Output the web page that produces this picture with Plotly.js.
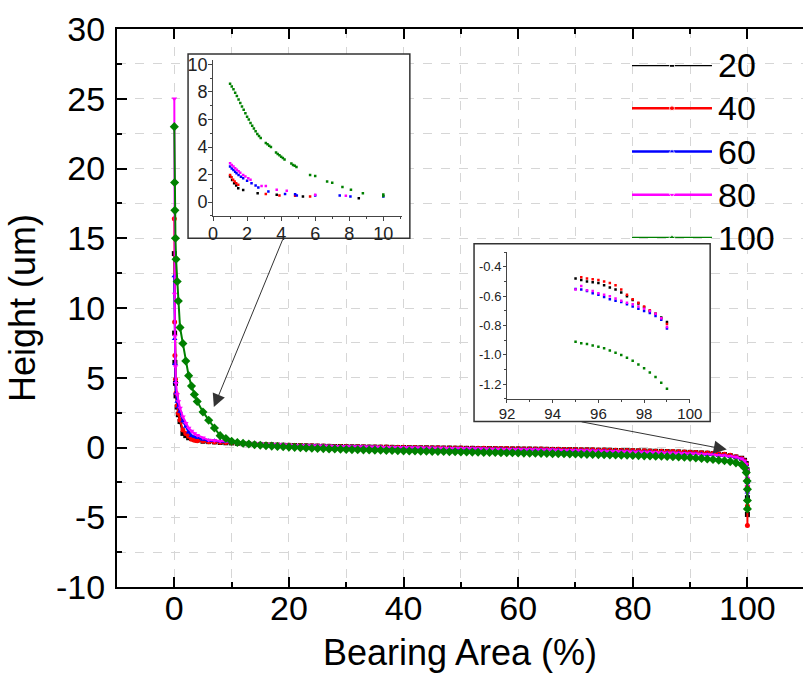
<!DOCTYPE html>
<html><head><meta charset="utf-8">
<script src="https://cdn.plot.ly/plotly-3.0.1.min.js"></script>
<style>html,body{margin:0;padding:0;overflow:hidden;background:#fff}</style>
</head><body><div id="chart" style="width:803px;height:673px"></div>
<script>
// ---------- main plot data ----------
const seriesNames = ['20','40','60','80','100'];
const seriesColors = ['#000000','#FF0000','#0000FF','#FF00FF','#008000'];
const seriesSymbols = ['square','circle','triangle-up','triangle-down','diamond'];

const area = [0,0.05,0.1,0.2,0.3,0.5,0.7,1,1.5,2,2.5,3,3.5,4,5,6,7,8,9,
10,11,12,13,14,15,16,17,18,19,20,21,22,23,24,25,26,27,28,29,30,31,32,33,34,35,36,37,38,39,
40,41,42,43,44,45,46,47,48,49,50,51,52,53,54,55,56,57,58,59,60,61,62,63,64,65,66,67,68,69,
70,71,72,73,74,75,76,77,78,79,80,81,82,83,84,85,86,87,88,89,90,91,92,93,94,95,96,97,98,99,
99.5,99.8,99.95,100,100,100];

const h20 = [13.9,8.2,6.1,4.6,3.7,2.9,2.35,1.86,1.01,0.85,0.7,0.65,0.58,0.53,0.45,0.42,0.4,0.36,0.34,
0.33,0.30,0.27,0.25,0.23,0.22,0.20,0.19,0.17,0.16,
0.15,0.14,0.13,0.12,0.11,0.10,0.09,0.08,0.07,0.07,
0.06,0.05,0.05,0.04,0.03,0.03,0.02,0.02,0.01,0.00,
0.00,-0.01,-0.01,-0.02,-0.02,-0.03,-0.03,-0.04,-0.04,-0.05,
-0.05,-0.06,-0.06,-0.07,-0.07,-0.08,-0.08,-0.09,-0.09,-0.10,
-0.10,-0.11,-0.11,-0.12,-0.12,-0.13,-0.14,-0.14,-0.15,-0.15,
-0.16,-0.17,-0.17,-0.18,-0.19,-0.19,-0.20,-0.21,-0.22,-0.22,
-0.23,-0.24,-0.25,-0.26,-0.27,-0.28,-0.29,-0.31,-0.32,-0.34,
-0.35,-0.37,-0.39,-0.41,-0.44,-0.48,-0.51,-0.58,-0.68,-0.77,
-0.92,-1.15,-1.6,-2.4,-3.6,-4.8];

const h40 = [16.4,9.0,6.6,4.9,3.9,3.0,2.45,1.98,1.26,1.0,0.8,0.6,0.52,0.48,0.46,0.41,0.39,0.37,0.35,
0.34,0.31,0.28,0.26,0.24,0.22,0.21,0.19,0.18,0.17,
0.16,0.15,0.14,0.13,0.12,0.11,0.10,0.09,0.08,0.08,
0.07,0.06,0.06,0.05,0.04,0.04,0.03,0.03,0.02,0.01,
0.01,0.00,0.00,-0.01,-0.01,-0.02,-0.02,-0.03,-0.03,-0.04,
-0.04,-0.05,-0.05,-0.06,-0.06,-0.07,-0.07,-0.08,-0.08,-0.09,
-0.09,-0.10,-0.10,-0.11,-0.11,-0.12,-0.12,-0.13,-0.14,-0.14,
-0.15,-0.16,-0.16,-0.17,-0.18,-0.18,-0.19,-0.20,-0.21,-0.21,
-0.22,-0.23,-0.24,-0.25,-0.26,-0.27,-0.28,-0.29,-0.31,-0.32,
-0.34,-0.36,-0.38,-0.40,-0.43,-0.47,-0.49,-0.555,-0.67,-0.79,
-0.95,-1.2,-1.8,-2.8,-4.2,-5.6];

const h60 = [12.3,7.8,6.0,4.7,3.9,3.3,2.9,2.58,1.9,1.5,1.1,0.85,0.77,0.7,0.58,0.48,0.48,0.45,0.42,
0.38,0.34,0.30,0.27,0.25,0.23,0.21,0.20,0.18,0.17,
0.16,0.14,0.13,0.12,0.11,0.10,0.09,0.08,0.07,0.06,
0.05,0.05,0.04,0.03,0.02,0.02,0.01,0.00,0.00,-0.01,
-0.01,-0.02,-0.03,-0.03,-0.04,-0.04,-0.05,-0.05,-0.06,-0.07,
-0.07,-0.08,-0.08,-0.09,-0.10,-0.10,-0.11,-0.11,-0.12,-0.13,
-0.13,-0.14,-0.15,-0.15,-0.16,-0.17,-0.17,-0.18,-0.19,-0.20,
-0.20,-0.21,-0.22,-0.23,-0.24,-0.25,-0.26,-0.27,-0.28,-0.29,
-0.30,-0.31,-0.32,-0.33,-0.35,-0.36,-0.37,-0.39,-0.40,-0.42,
-0.43,-0.45,-0.47,-0.50,-0.52,-0.55,-0.59,-0.64,-0.70,-0.82,
-0.98,-1.25,-1.7,-2.5,-3.2,-3.8];

const h80 = [25.0,11.0,8.0,5.8,4.6,3.8,3.3,2.83,2.2,1.74,1.4,1.18,1.0,0.88,0.7,0.53,0.5,0.46,0.44,
0.42,0.38,0.34,0.31,0.28,0.26,0.24,0.22,0.21,0.19,
0.18,0.17,0.15,0.14,0.13,0.12,0.11,0.10,0.09,0.08,
0.07,0.06,0.06,0.05,0.04,0.03,0.03,0.02,0.01,0.01,
0.00,-0.01,-0.01,-0.02,-0.03,-0.03,-0.04,-0.04,-0.05,-0.06,
-0.06,-0.07,-0.08,-0.08,-0.09,-0.10,-0.10,-0.11,-0.12,-0.12,
-0.13,-0.14,-0.14,-0.15,-0.16,-0.17,-0.17,-0.18,-0.19,-0.20,
-0.21,-0.21,-0.22,-0.23,-0.24,-0.25,-0.26,-0.27,-0.28,-0.29,
-0.30,-0.31,-0.32,-0.33,-0.34,-0.36,-0.37,-0.38,-0.40,-0.41,
-0.43,-0.45,-0.47,-0.49,-0.52,-0.555,-0.58,-0.63,-0.685,-0.81,
-0.97,-1.2,-1.6,-2.2,-2.8,-3.2];

const h100 = [23.0,19.0,17.0,15.0,13.5,11.9,10.5,8.6,7.45,6.2,5.15,4.4,3.8,3.3,2.55,1.95,1.4,0.85,0.65,
0.45,0.36,0.30,0.25,0.20,0.16,0.13,0.10,0.07,0.05,
0.03,0.01,-0.01,-0.03,-0.05,-0.07,-0.08,-0.10,-0.11,-0.12,
-0.14,-0.15,-0.16,-0.17,-0.18,-0.19,-0.20,-0.21,-0.22,-0.23,
-0.24,-0.25,-0.25,-0.26,-0.27,-0.28,-0.29,-0.29,-0.30,-0.31,
-0.32,-0.32,-0.33,-0.34,-0.35,-0.35,-0.36,-0.37,-0.38,-0.38,
-0.39,-0.40,-0.41,-0.41,-0.42,-0.43,-0.44,-0.45,-0.45,-0.46,
-0.47,-0.48,-0.49,-0.50,-0.51,-0.52,-0.53,-0.54,-0.55,-0.56,
-0.57,-0.58,-0.60,-0.61,-0.62,-0.63,-0.65,-0.66,-0.68,-0.70,
-0.72,-0.75,-0.78,-0.82,-0.86,-0.91,-0.95,-1.01,-1.10,-1.23,
-1.45,-1.8,-2.4,-3.0,-3.8,-4.4];

// ---------- inset A (0-10 %) ----------
const insA_x20 = [1.0,1.12,1.24,1.36,1.48,1.77,2.62,3.74,5.28,8.56];
const insA_y20 = [1.86,1.6,1.38,1.2,1.01,0.89,0.65,0.53,0.41,0.29];
const insA_x40 = [1.0,1.09,1.18,1.27,1.36,1.48,3.1,3.9,4.82,5.7];
const insA_y40 = [1.98,1.8,1.62,1.5,1.38,1.26,0.6,0.48,0.46,0.41];
const insA_x60 = [1.0,1.1,1.2,1.3,1.38,1.5,1.64,1.77,2.0,2.26,2.5,2.66,3.25,4.23,4.82,4.92,6.0,7.44,8.07,10.0];
const insA_y60 = [2.58,2.45,2.33,2.2,2.1,1.98,1.85,1.74,1.55,1.38,1.2,1.06,0.77,0.6,0.58,0.48,0.48,0.48,0.41,0.41];
const insA_x80 = [1.0,1.1,1.2,1.3,1.4,1.5,1.6,1.77,1.9,2.07,2.2,2.85,3.1,3.74,4.33,6.0,7.8];
const insA_y80 = [2.83,2.7,2.58,2.46,2.35,2.25,2.14,1.98,1.86,1.74,1.62,1.18,1.18,0.9,0.82,0.53,0.46];
const insA_x100 = [1.0,1.1,1.2,1.3,1.4,1.5,1.6,1.7,1.8,1.9,2.0,2.1,2.2,2.3,2.4,2.5,2.6,2.7,2.8,
3.1,3.2,3.3,3.4,3.7,3.8,3.9,4.0,4.1,4.2,4.6,4.7,4.8,4.9,5.7,6.0,6.7,7.0,7.6,8.1,8.8,10.0,10.0];
const insA_y100 = [8.6,8.4,8.2,7.95,7.7,7.45,7.2,6.95,6.7,6.45,6.2,6.0,5.75,5.55,5.35,5.15,4.95,4.8,4.65,
4.3,4.2,4.1,4.0,3.6,3.5,3.4,3.3,3.2,3.1,2.8,2.7,2.65,2.55,1.98,1.9,1.5,1.4,1.1,0.9,0.65,0.45,0.55];
const insA_xticks = [0,2,4,6,8,10];
const insA_yticks = [0,2,4,6,8,10];

// ---------- inset B (92-100 %) ----------
const insB_x = [95,95.25,95.5,95.75,96,96.25,96.5,96.75,97,97.25,97.5,97.75,98,98.25,98.5,98.75,99];
const insB_y20 = [-0.48,-0.49,-0.50,-0.505,-0.51,-0.525,-0.54,-0.555,-0.575,-0.60,-0.625,-0.65,-0.675,-0.70,-0.72,-0.745,-0.775];
const insB_y40 = [null,-0.47,-0.48,-0.485,-0.49,-0.50,-0.51,-0.525,-0.555,-0.59,-0.62,-0.645,-0.67,-0.695,-0.72,-0.75,-0.79];
const insB_y60 = [-0.55,-0.555,-0.565,-0.58,-0.59,-0.605,-0.62,-0.63,-0.64,-0.655,-0.67,-0.685,-0.70,-0.715,-0.735,-0.76,-0.82];
const insB_y80 = [-0.555,-0.53,-0.56,-0.565,-0.58,-0.59,-0.60,-0.615,-0.63,-0.645,-0.655,-0.67,-0.685,-0.70,-0.72,-0.75,-0.81];
const insB_y100 = [-0.91,-0.92,-0.925,-0.935,-0.945,-0.955,-0.97,-0.985,-1.0,-1.02,-1.04,-1.065,-1.09,-1.12,-1.15,-1.19,-1.23];
const insB_xticks = [92,94,96,98,100];
const insB_yticks = [-0.4,-0.6,-0.8,-1.0,-1.2];
const insB_ytext = ['-0.4','-0.6','-0.8','-1.0','-1.2'];

// main axis tick labels (hyphen minus, like the original)
const mainYticks = [-10,-5,0,5,10,15,20,25,30];
const mainYtext = ['-10','-5','0','5','10','15','20','25','30'];
const mainXticks = [0,20,40,60,80,100];

const mainY = [h20,h40,h60,h80,h100];
const insAX = [insA_x20,insA_x40,insA_x60,insA_x80,insA_x100];
const insAY = [insA_y20,insA_y40,insA_y60,insA_y80,insA_y100];
const insBY = [insB_y20,insB_y40,insB_y60,insB_y80,insB_y100];

const FONT = '"Liberation Sans", Arial, sans-serif';
const traces = [];
seriesNames.forEach((n,i)=>{
  traces.push({type:'scatter', mode:'lines+markers', name:n, x:area, y:mainY[i],
    xaxis:'x', yaxis:'y', showlegend:false, line:{color:seriesColors[i], width:2},
    marker:{color:seriesColors[i], symbol:seriesSymbols[i], size: i===4?7:5}});
});
seriesNames.forEach((n,i)=>{
  traces.push({type:'scatter', mode:'markers', name:n, x:insAX[i], y:insAY[i], showlegend:false,
    xaxis:'x2', yaxis:'y2', marker:{color:seriesColors[i], size:2.5, symbol:'square'}});
});
seriesNames.forEach((n,i)=>{
  traces.push({type:'scatter', mode:'markers', name:n, x:insB_x, y:insBY[i], showlegend:false,
    xaxis:'x3', yaxis:'y3', marker:{color:seriesColors[i], size:2.5, symbol:'square'}});
});
// legend samples drawn in their own small axes (row index = series index)
seriesNames.forEach((n,i)=>{
  traces.push({type:'scatter', mode:'lines+markers', name:n, x:[0,0.5,1], y:[i,i,i], showlegend:false,
    xaxis:'x4', yaxis:'y4', line:{color:seriesColors[i], width:2.5},
    marker:{color:seriesColors[i], symbol:seriesSymbols[i], size:[0,5,0]}});
});

const grid = {showgrid:true, gridcolor:'#d6d6d6', griddash:'dash', gridwidth:1};
const insetAxis = {showline:true, linecolor:'#444', linewidth:1, ticks:'outside', ticklen:4, tickcolor:'#444',
  showgrid:false, zeroline:false, ticklabelstandoff:-3, tickfont:{size:18, family:FONT, color:'#222'}};

const legendLabels = seriesNames.map((n,i)=>({xref:'x4', yref:'y4', x:1, y:i, xanchor:'left', yanchor:'middle',
  xshift:4, text:n, showarrow:false, font:{size:34, family:FONT, color:'#000'}}));

const layout = {
  width:803, height:673,
  margin:{l:117, r:0, t:29, b:86, pad:0},
  paper_bgcolor:'#ffffff', plot_bgcolor:'rgba(0,0,0,0)',
  font:{family:FONT, color:'#000'},
  showlegend:false,
  xaxis:Object.assign({domain:[0,1], range:[-10,109.7], tickvals:mainXticks,
    ticks:'inside', ticklen:10, tickwidth:2, tickcolor:'#000',
    showline:true, linewidth:2, linecolor:'#000', mirror:'ticks', zeroline:false,
    tickfont:{size:34}, ticklabelstandoff:-10,
    minor:{tick0:0, dtick:10, ticks:'inside', ticklen:5, tickwidth:2, tickcolor:'#000',
      showgrid:true, gridcolor:'#d6d6d6', griddash:'dash', gridwidth:1},
    title:{text:'Bearing Area (%)', font:{size:36}, standoff:14}}, grid),
  yaxis:Object.assign({domain:[0,1], range:[-10,30], tickvals:mainYticks, ticktext:mainYtext,
    ticks:'inside', ticklen:10, tickwidth:2, tickcolor:'#000',
    showline:true, linewidth:2, linecolor:'#000', mirror:false, zeroline:false,
    tickfont:{size:34}, ticklabelstandoff:3,
    minor:{tick0:0, dtick:2.5, ticks:'inside', ticklen:5, tickwidth:2, tickcolor:'#000',
      showgrid:true, gridcolor:'#d6d6d6', griddash:'dash', gridwidth:1},
    title:{text:'Height (um)', font:{size:36}, standoff:9}}, grid),
  xaxis2:Object.assign({domain:[0.14,0.4155], anchor:'y2', range:[0,11.1], tickvals:insA_xticks,
    minor:{dtick:1, tick0:0, ticks:'outside', ticklen:2, tickcolor:'#444'}}, insetAxis),
  yaxis2:Object.assign({domain:[0.665,0.944], anchor:'x2', range:[-1,10.3], tickvals:insA_yticks,
    minor:{dtick:1, tick0:0, ticks:'outside', ticklen:2, tickcolor:'#444'}}, insetAxis),
  xaxis3:Object.assign({domain:[0.5685,0.835], anchor:'y3', range:[92,100], tickvals:insB_xticks,
    minor:{dtick:1, tick0:92, ticks:'outside', ticklen:2, tickcolor:'#444'}}, insetAxis,
    {ticklen:3, ticklabelstandoff:-2, tickfont:{size:15, family:FONT, color:'#222'}}),
  yaxis3:Object.assign({domain:[0.337,0.600], anchor:'x3', range:[-1.3,-0.3], tickvals:insB_yticks, ticktext:insB_ytext,
    minor:{dtick:0.1, tick0:-0.4, ticks:'outside', ticklen:2, tickcolor:'#444'}}, insetAxis,
    {ticklen:3, ticklabelstandoff:-1, tickfont:{size:13, family:FONT, color:'#222'}}),
  xaxis4:{domain:[0.7507,0.8673], anchor:'y4', range:[0,1], visible:false, fixedrange:true},
  yaxis4:{domain:[0.6254,0.9355], anchor:'x4', range:[4,0], visible:false, fixedrange:true},
  shapes:[
    {type:'rect', xref:'x', yref:'y', x0:2.4, x1:41.1, y0:15.0, y1:28.2, layer:'between',
      fillcolor:'#ffffff', line:{color:'#333', width:1.5}},
    {type:'rect', xref:'x', yref:'y', x0:52.3, x1:93.5, y0:1.86, y1:14.6, layer:'between',
      fillcolor:'#ffffff', line:{color:'#333', width:1.5}}
  ],
  annotations:[
    {xref:'x', yref:'y', axref:'x', ayref:'y', x:6.9, y:2.9, ax:19.0, ay:15.0, text:'',
      showarrow:true, arrowhead:2, arrowsize:2.6, arrowwidth:1, arrowcolor:'#333', standoff:0, startstandoff:0},
    {xref:'x', yref:'y', axref:'x', ayref:'y', x:96.4, y:-0.15, ax:70.8, ay:1.86, text:'',
      showarrow:true, arrowhead:2, arrowsize:2.6, arrowwidth:1, arrowcolor:'#333', standoff:0, startstandoff:0}
  ].concat(legendLabels)
};

Plotly.newPlot('chart', traces, layout, {displayModeBar:false, staticPlot:true});
</script></body></html>
